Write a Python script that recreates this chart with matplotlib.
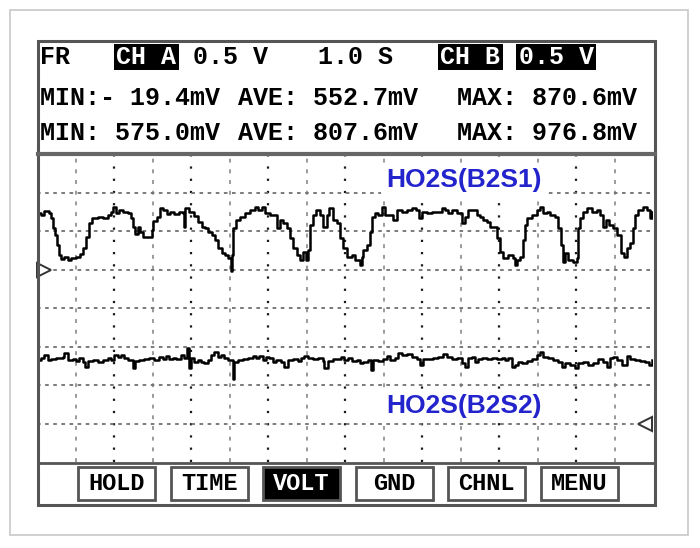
import numpy as np
import matplotlib
matplotlib.use("Agg")
import matplotlib.pyplot as plt
from matplotlib.patches import Rectangle

# ── Trace data (time in s, voltage in V) ────────────────────────────────────
TIME_A = [0.010, 0.049, 0.092, 0.157, 0.179, 0.201, 0.235, 0.253, 0.279, 0.309,
          0.352, 0.396, 0.439, 0.504, 0.556, 0.591, 0.634, 0.669, 0.712, 0.786,
          0.851, 0.916, 0.958, 0.988, 1.023, 1.066, 1.118, 1.175, 1.218, 1.248,
          1.274, 1.305, 1.335, 1.370, 1.456, 1.491, 1.508, 1.552, 1.595, 1.638,
          1.682, 1.725, 1.781, 1.845, 1.897, 1.910, 1.923, 1.975, 2.040, 2.092,
          2.136, 2.179, 2.222, 2.266, 2.309, 2.352, 2.396, 2.439, 2.482, 2.513,
          2.526, 2.547, 2.582, 2.634, 2.699, 2.764, 2.829, 2.871, 2.916, 2.958,
          3.023, 3.088, 3.118, 3.153, 3.196, 3.240, 3.283, 3.326, 3.370, 3.413,
          3.456, 3.491, 3.521, 3.543, 3.578, 3.621, 3.673, 3.716, 3.760, 3.794,
          3.838, 3.890, 3.932, 3.975, 4.019, 4.062, 4.084, 4.127, 4.170, 4.192,
          4.214, 4.235, 4.279, 4.322, 4.344, 4.387, 4.430, 4.474, 4.517, 4.582,
          4.625, 4.669, 4.734, 4.799, 4.864, 4.916, 4.958, 5.001, 5.058, 5.123,
          5.188, 5.253, 5.296, 5.339, 5.383, 5.448, 5.491, 5.521, 5.556, 5.599,
          5.664, 5.708, 5.751, 5.794, 5.838, 5.881, 5.923, 5.968, 6.010, 6.053,
          6.118, 6.183, 6.205, 6.227, 6.270, 6.313, 6.335, 6.365, 6.422, 6.487,
          6.530, 6.573, 6.617, 6.660, 6.725, 6.768, 6.799, 6.825, 6.855, 6.897,
          6.962, 7.006, 7.027, 7.049, 7.092, 7.144, 7.201, 7.266, 7.309, 7.352,
          7.387, 7.430, 7.474, 7.526, 7.578, 7.621, 7.656, 7.699, 7.742, 7.764,
          7.806, 7.871, 7.916, 7.958, 7.981]
VOLT_A = [0.730, 0.708, 0.760, 0.730, 0.665, 0.535, 0.448, 0.318, 0.188, 0.136,
          0.166, 0.123, 0.153, 0.166, 0.197, 0.275, 0.426, 0.600, 0.673, 0.686,
          0.673, 0.708, 0.743, 0.816, 0.730, 0.773, 0.751, 0.730, 0.665, 0.556,
          0.457, 0.556, 0.483, 0.426, 0.426, 0.513, 0.630, 0.686, 0.795, 0.773,
          0.717, 0.751, 0.717, 0.743, 0.730, 0.556, 0.803, 0.751, 0.699, 0.621,
          0.556, 0.535, 0.491, 0.448, 0.383, 0.275, 0.210, 0.188, 0.145, -0.019,
          0.188, 0.535, 0.643, 0.686, 0.730, 0.773, 0.816, 0.773, 0.816, 0.730,
          0.708, 0.708, 0.535, 0.643, 0.600, 0.535, 0.405, 0.275, 0.188, 0.123,
          0.231, 0.123, 0.253, 0.578, 0.708, 0.773, 0.708, 0.556, 0.708, 0.795,
          0.643, 0.600, 0.405, 0.275, 0.166, 0.166, 0.188, 0.123, 0.123, 0.058,
          0.166, 0.253, 0.318, 0.491, 0.686, 0.730, 0.708, 0.816, 0.708, 0.708,
          0.643, 0.773, 0.751, 0.773, 0.795, 0.773, 0.665, 0.751, 0.730, 0.751,
          0.751, 0.795, 0.773, 0.730, 0.773, 0.730, 0.730, 0.600, 0.686, 0.773,
          0.773, 0.708, 0.686, 0.643, 0.621, 0.556, 0.556, 0.405, 0.231, 0.145,
          0.188, 0.145, 0.058, 0.123, 0.166, 0.383, 0.578, 0.665, 0.708, 0.773,
          0.816, 0.730, 0.751, 0.708, 0.686, 0.535, 0.318, 0.101, 0.210, 0.123,
          0.101, 0.145, 0.535, 0.665, 0.751, 0.795, 0.751, 0.773, 0.708, 0.556,
          0.643, 0.578, 0.535, 0.448, 0.210, 0.166, 0.275, 0.340, 0.535, 0.708,
          0.773, 0.816, 0.773, 0.665, 0.751]

TIME_B = [0.006, 0.049, 0.092, 0.136, 0.179, 0.244, 0.331, 0.352, 0.396, 0.461,
          0.504, 0.547, 0.591, 0.625, 0.656, 0.721, 0.786, 0.851, 0.916, 0.958,
          1.001, 1.045, 1.088, 1.131, 1.175, 1.240, 1.274, 1.326, 1.391, 1.456,
          1.521, 1.586, 1.630, 1.673, 1.716, 1.760, 1.803, 1.868, 1.910, 1.942,
          1.968, 1.997, 2.040, 2.084, 2.127, 2.170, 2.214, 2.257, 2.300, 2.344,
          2.387, 2.430, 2.474, 2.517, 2.539, 2.560, 2.604, 2.669, 2.734, 2.799,
          2.842, 2.884, 2.929, 2.971, 3.014, 3.058, 3.101, 3.166, 3.209, 3.253,
          3.318, 3.383, 3.426, 3.469, 3.513, 3.578, 3.643, 3.708, 3.729, 3.773,
          3.838, 3.903, 3.945, 3.988, 4.040, 4.084, 4.149, 4.192, 4.235, 4.300,
          4.335, 4.365, 4.430, 4.495, 4.539, 4.582, 4.647, 4.690, 4.734, 4.799,
          4.864, 4.929, 4.971, 5.014, 5.079, 5.144, 5.209, 5.274, 5.318, 5.383,
          5.448, 5.513, 5.556, 5.599, 5.643, 5.686, 5.729, 5.773, 5.838, 5.903,
          5.968, 6.032, 6.075, 6.118, 6.162, 6.205, 6.248, 6.292, 6.357, 6.422,
          6.487, 6.530, 6.573, 6.638, 6.703, 6.768, 6.812, 6.855, 6.919, 6.984,
          7.027, 7.092, 7.157, 7.222, 7.287, 7.352, 7.396, 7.439, 7.482, 7.526,
          7.591, 7.656, 7.699, 7.764, 7.829, 7.894, 7.945, 7.981]
VOLT_B = [0.825, 0.847, 0.890, 0.825, 0.838, 0.847, 0.868, 0.912, 0.825, 0.838,
          0.812, 0.847, 0.803, 0.738, 0.812, 0.825, 0.803, 0.825, 0.847, 0.825,
          0.890, 0.868, 0.890, 0.855, 0.825, 0.717, 0.812, 0.825, 0.838, 0.855,
          0.825, 0.868, 0.838, 0.881, 0.838, 0.855, 0.838, 0.890, 0.847, 0.977,
          0.717, 0.847, 0.803, 0.825, 0.795, 0.782, 0.825, 0.890, 0.932, 0.868,
          0.890, 0.847, 0.825, 0.825, 0.575, 0.803, 0.825, 0.838, 0.847, 0.881,
          0.855, 0.881, 0.825, 0.868, 0.847, 0.795, 0.825, 0.803, 0.738, 0.825,
          0.838, 0.812, 0.855, 0.881, 0.847, 0.838, 0.847, 0.812, 0.717, 0.812,
          0.838, 0.838, 0.868, 0.825, 0.855, 0.812, 0.825, 0.782, 0.803, 0.825,
          0.695, 0.825, 0.812, 0.838, 0.881, 0.825, 0.855, 0.912, 0.890, 0.899,
          0.868, 0.838, 0.760, 0.838, 0.838, 0.847, 0.868, 0.899, 0.868, 0.838,
          0.855, 0.782, 0.738, 0.847, 0.868, 0.803, 0.838, 0.847, 0.838, 0.847,
          0.838, 0.855, 0.825, 0.847, 0.738, 0.760, 0.803, 0.782, 0.812, 0.838,
          0.890, 0.932, 0.868, 0.847, 0.825, 0.803, 0.738, 0.782, 0.760, 0.717,
          0.782, 0.803, 0.760, 0.782, 0.838, 0.803, 0.738, 0.847, 0.868, 0.825,
          0.760, 0.881, 0.838, 0.825, 0.812, 0.803, 0.760, 0.825]

# ── Screen texts ─────────────────────────────────────────────────────────────
HEADER_ROW = ["FR", "CH A", "0.5 V", "1.0 S", "CH B", "0.5 V"]
STATS_A = ["MIN:- 19.4mV", "AVE: 552.7mV", "MAX: 870.6mV"]
STATS_B = ["MIN: 575.0mV", "AVE: 807.6mV", "MAX: 976.8mV"]
BUTTONS = ["HOLD", "TIME", "VOLT", "GND", "CHNL", "MENU"]
LABEL_A = "HO2S(B2S1)"
LABEL_B = "HO2S(B2S2)"

T_SPAN = 8.0            # 8 div x 1.0 s
V_RANGE = (-2.5, 1.5)   # 8 div x 0.5 V, channel A ground at 0
B_GROUND = -2.0         # channel B ground marker position

W, H = 700, 548
MONO = "Liberation Mono"

fig = plt.figure(figsize=(W / 100, H / 100), dpi=100)
fig.patch.set_facecolor("white")

# ── Scope grid + traces ─────────────────────────────────────────────────────
left, right, top, bottom = 37.2, 653.2, 154.0, 462.0
ax = fig.add_axes([left / W, (H - bottom) / H, (right - left) / W, (bottom - top) / H])
ax.set_xlim(0, T_SPAN)
ax.set_ylim(*V_RANGE)
ax.axis("off")

for t in np.arange(0.5, T_SPAN, 1.0):
    ax.axvline(t, color="#9a9a9a", lw=1.4, ls=(0, (2, 3.5)), zorder=1)
for t in np.arange(1.0, T_SPAN, 1.0):
    ax.axvline(t, color="#1a1a1a", lw=1.6, ls=(0, (1, 4.5)), zorder=1)
for v in np.arange(V_RANGE[0] + 0.5, V_RANGE[1], 0.5):
    ax.axhline(v, color="#707070", lw=1.3, ls=(0, (2, 2.5)), zorder=1)

ax.plot(TIME_A, VOLT_A, color="black", lw=1.8, drawstyle="steps-post", zorder=3)
ax.plot(TIME_B, np.array(VOLT_B) + B_GROUND, color="black", lw=1.8,
        drawstyle="steps-post", zorder=3)

# ground markers
ax.plot(0.09, 0.0, marker=">", ms=10, mfc="white", mec="#333333", mew=1.4,
        clip_on=False, zorder=4)
ax.plot(7.89, B_GROUND, marker="<", ms=10, mfc="white", mec="#333333", mew=1.4,
        clip_on=False, zorder=4)

# ── Overlay in pixel coordinates: frames, header, labels, buttons ───────────
ov = fig.add_axes([0, 0, 1, 1], zorder=2)
ov.set_xlim(0, W)
ov.set_ylim(H, 0)
ov.axis("off")
ov.patch.set_alpha(0)

ov.add_patch(Rectangle((10, 10), 678, 525, fill=False, ec="#c8c8c8", lw=1.2))
ov.add_patch(Rectangle((38, 41), 617, 464, fill=False, ec="#555555", lw=2.2))
ov.plot([38, 655], [154, 154], color="#666666", lw=3)
ov.plot([38, 655], [463, 463], color="#555555", lw=2)

# header row 1
row1_x = [40, 116, 193, 318, 440, 519]
inverted = {1, 4, 5}
boxes = {1: (114, 65), 4: (438, 65), 5: (516, 80)}
for i, (txt, x) in enumerate(zip(HEADER_ROW, row1_x)):
    if i in inverted:
        bx, bw = boxes[i]
        ov.add_patch(Rectangle((bx, 44), bw, 26, color="black", lw=0))
    ov.text(x, 57, txt, family=MONO, weight="bold", fontsize=18,
            color="white" if i in inverted else "black", ha="left", va="center")

stat_x = [40, 238, 457]
for txt, x in zip(STATS_A, stat_x):
    ov.text(x, 98, txt, family=MONO, weight="bold", fontsize=18, ha="left", va="center")
for txt, x in zip(STATS_B, stat_x):
    ov.text(x, 133, txt, family=MONO, weight="bold", fontsize=18, ha="left", va="center")

# channel labels
for txt, y in [(LABEL_A, 180), (LABEL_B, 406)]:
    ov.text(464, y, txt, family="Liberation Sans", weight="bold", fontsize=19,
            color="#2424cc", ha="center", va="center",
            bbox=dict(boxstyle="square,pad=0.2", fc="white", ec="none"))

# soft-key buttons
for i, name in enumerate(BUTTONS):
    cx = 116.5 + 92.5 * i
    active = name == "VOLT"
    ov.add_patch(Rectangle((cx - 38.5, 467), 77, 33, fc="black" if active else "white",
                           ec="#555555", lw=2))
    ov.text(cx, 484, name, family=MONO, weight="bold", fontsize=17,
            color="white" if active else "black", ha="center", va="center")

fig.savefig("out.png", dpi=100)
plt.close(fig)
